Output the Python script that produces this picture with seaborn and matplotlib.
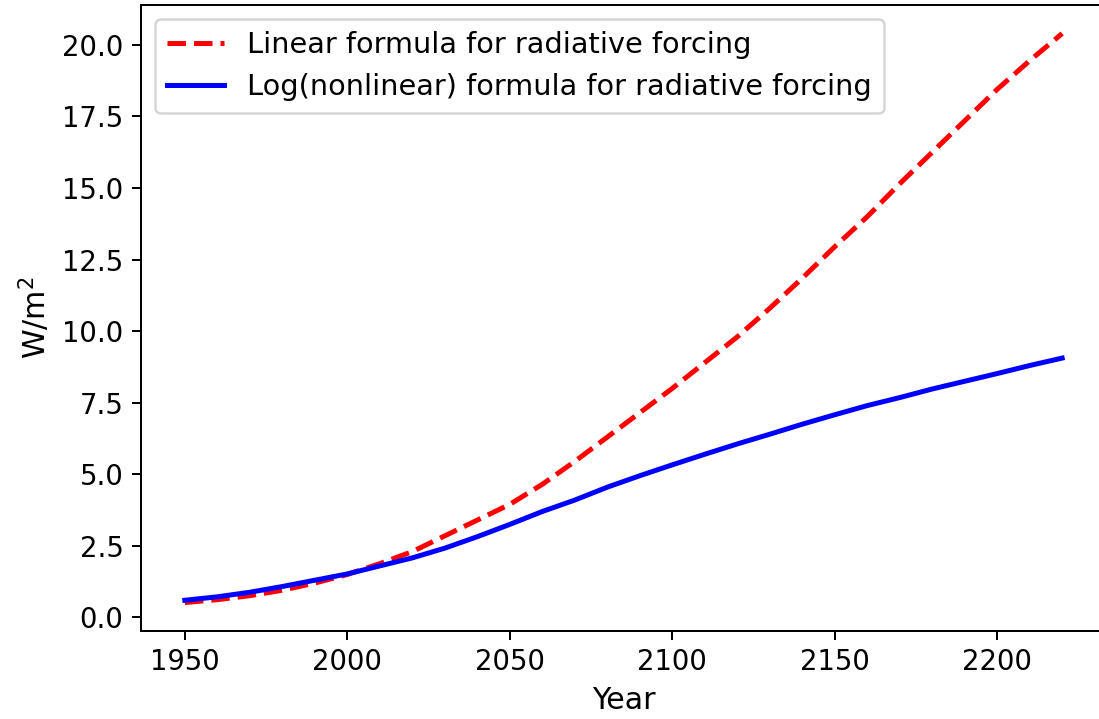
import numpy as np
import pandas as pd
import matplotlib
matplotlib.use("Agg")
import matplotlib.pyplot as plt
import seaborn as sns

# valores (W/m^2)
years = [1950, 1960, 1970, 1980, 1990, 2000, 2010, 2020, 2030, 2040,
         2050, 2060, 2070, 2080, 2090, 2100, 2110, 2120, 2130, 2140,
         2150, 2160, 2170, 2180, 2190, 2200, 2210, 2220]
linear_rf = [0.52, 0.62, 0.76, 0.95, 1.2, 1.5, 1.88, 2.3, 2.85, 3.4,
             3.95, 4.65, 5.45, 6.3, 7.15, 8.0, 8.9, 9.8, 10.8, 11.85,
             12.95, 14.0, 15.15, 16.25, 17.35, 18.45, 19.45, 20.4]
log_rf = [0.6, 0.72, 0.88, 1.08, 1.3, 1.52, 1.8, 2.08, 2.42, 2.82,
          3.25, 3.7, 4.1, 4.55, 4.95, 5.33, 5.7, 6.06, 6.4, 6.75,
          7.08, 7.4, 7.68, 7.98, 8.25, 8.52, 8.8, 9.06]

df = pd.DataFrame({"year": years, "linear": linear_rf, "log": log_rf})

plt.rcParams['font.family'] = ['DejaVu Sans']
fig = plt.figure(figsize=(1099 / 180, 719 / 180), dpi=180)
ax = fig.add_axes([0.1283, 0.1224, 0.8781, 0.8706])

sns.lineplot(data=df, x="year", y="linear", ax=ax, color="red", linestyle="--",
             linewidth=2, label="Linear formula for radiative forcing")
sns.lineplot(data=df, x="year", y="log", ax=ax, color="blue", linestyle="-",
             linewidth=2, label="Log(nonlinear) formula for radiative forcing")

ax.set_xlabel("Year", fontsize=12)
ax.set_ylabel("W/m$^2$", fontsize=12)
ax.set_yticks(np.arange(0, 20.1, 2.5))
ax.tick_params(labelsize=11)
ax.spines['right'].set_visible(False)
ax.legend(loc="upper left", fontsize=11.5)

fig.savefig("out.png", dpi=180)
